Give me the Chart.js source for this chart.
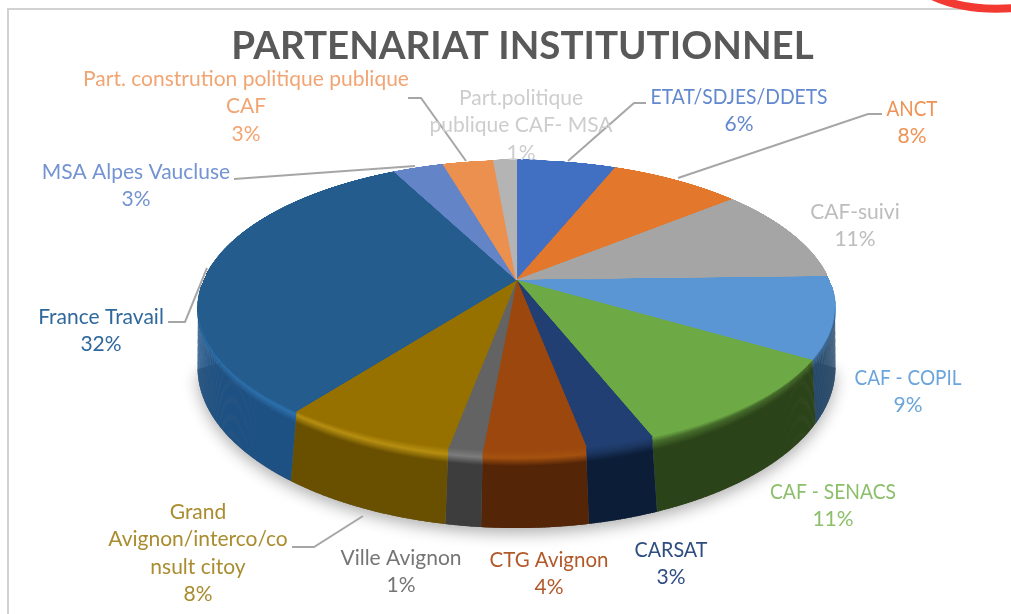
<!DOCTYPE html>
<html><head><meta charset="utf-8">
<style>html,body{margin:0;padding:0;background:#fff}canvas{display:block;filter:blur(.55px)}</style>
<script src="https://cdn.jsdelivr.net/npm/chart.js@4"></script>
</head><body><canvas id="c" width="1011" height="614"></canvas>
<script>
const chartTitle = "PARTENARIAT INSTITUTIONNEL";
const categories = ["ETAT/SDJES/DDETS","ANCT","CAF-suivi","CAF - COPIL","CAF - SENACS","CARSAT","CTG Avignon","Ville Avignon","Grand\nAvignon/interco/co\nnsult citoy","France Travail","MSA Alpes Vaucluse","Part. constrution politique publique\nCAF","Part.politique\npublique CAF- MSA"];
const percents = [6.1,8.0,10.5,8.9,10.5,3.0,4.45,1.49,7.5,31.96,3.1,3.1,1.4];

const sliceColors = ["#4170C2","#E3772B","#A5A5A5","#5A96D3","#6DAA45","#213F72","#9C470D","#636363","#967100","#245C8E","#6484C8","#EB904F","#B4B4B4"];
const wallColors  = ["#2E4F88","#9E521E","#737373","#26496B","#2B4318","#0C1D37","#552507","#3D3D3D","#695000","#1E5183","#465D8C","#A46437","#7D7D7D"];
const rimColors   = ["#4170C2","#E3772B","#A5A5A5","#3E6D9A","#456B2B","#1B355F","#A5510F","#7C7C7C","#B68E10","#2C70AC","#6484C8","#EB904F","#B4B4B4"];
const textColors  = ["#6289CF","#EE9355","#BDBDBD","#6BA5DB","#8CBF6B","#2F4E80","#B2592A","#757575","#A98C2E","#30689C","#7393D3","#F1A573","#CDCDCD"];
const labelAnchors = [[739,97],[912,109],[855,212],[908,378],[833,492],[671,550],[549,560],[401,558],[198,512],[101,317],[136,172],[246,79],[521,98]];
const labelMaxWidths = [177,51,null,107,126,73,119,null,null,null,null,null,null];
const leaders = [
  [[646,103],[634,103],[568,161]],
  [[882,114],[868,114],[678,178]],
  [[234,179],[415,166]],
  [[168,322],[185,322],[207,268]],
  [[292,547],[314,547],[363,516]],
  [[408,98],[421,98],[466,161]]
];
const P = {cx:516.5, cy:280, d:5.14, g:737, f:1608, depth:290, srcR:700, lineH:27.5};

function project(u,v){ return [P.cx+P.f*u/(P.d-v), P.cy+P.g*v/(P.d-v)]; }

const tilted = {
  id:'tilted',
  beforeDatasetsDraw(chart){
    const ctx = chart.ctx, arcs = chart.getDatasetMeta(0).data;
    const R0 = arcs[0].outerRadius, s = P.srcR/R0;
    const off = document.createElement('canvas');
    off.width = off.height = P.srcR*2;
    const oc = off.getContext('2d');
    oc.setTransform(s,0,0,s,P.srcR-arcs[0].x*s,P.srcR-arcs[0].y*s);
    arcs.forEach(a=>a.draw(oc));

    const aMin = Math.asin(1/P.d), aMax = Math.PI-aMin;
    const rimPt = a=>project(Math.cos(a),Math.sin(a));
    // soft shadow beneath the solid
    ctx.save();
    ctx.shadowColor='rgba(0,0,0,.32)'; ctx.shadowBlur=16; ctx.shadowOffsetX=0; ctx.shadowOffsetY=5;
    ctx.fillStyle='#777';
    ctx.beginPath();
    let first=true;
    for(let a=aMin;a<=aMax;a+=0.01){const p=rimPt(a);const y=p[1]+P.depth/(P.d-Math.sin(a));first?ctx.moveTo(p[0],y):ctx.lineTo(p[0],y);first=false;}
    ctx.lineTo(P.cx,P.cy); ctx.closePath(); ctx.fill();
    ctx.restore();

    // top surface: perspective row mapping of the library's arcs
    const V = yd=>P.d*yd/(P.g+yd);
    for(let y=158;y<462;y++){
      const v1=V(y-P.cy), v2=V(y+1-P.cy), vm=(v1+v2)/2;
      if(v1>1||v2<-1) continue;
      const hw=P.f/(P.d-vm);
      const sy1=Math.max(0,(v1+1)*P.srcR), sy2=Math.min(P.srcR*2,(v2+1)*P.srcR);
      if(sy2<=sy1) continue;
      ctx.drawImage(off,0,sy1,P.srcR*2,sy2-sy1,P.cx-hw,y,2*hw,1);
    }

    // front wall with bevel
    const step=0.006;
    arcs.forEach((el,i)=>{
      const a0=Math.max(el.startAngle,aMin), a1=Math.min(el.endAngle,aMax);
      for(let a=a0;a<a1;a+=step){
        const b=Math.min(a+step*1.5,a1);
        const r0=1-0.034*Math.pow(Math.sin(a),2), r1=1-0.034*Math.pow(Math.sin(b),2);
        const i0=project(r0*Math.cos(a),r0*Math.sin(a)), i1=project(r1*Math.cos(b),r1*Math.sin(b));
        const o0=rimPt(a), o1=rimPt(b);
        const h0=P.depth/(P.d-Math.sin(a)), h1=P.depth/(P.d-Math.sin(b));
        const yT=i0[1], yB=o0[1]+h0, span=Math.max(1,yB-yT);
        const g=ctx.createLinearGradient(0,yT,0,yB);
        const tR=Math.min(.9,(o0[1]-yT)/span), tW=Math.min(.97,(o0[1]+8-yT)/span);
        g.addColorStop(0,sliceColors[i]);
        g.addColorStop(tR,rimColors[i]);
        g.addColorStop(Math.max(tW,tR+.01),wallColors[i]);
        g.addColorStop(1,wallColors[i]);
        ctx.fillStyle=g;
        ctx.beginPath();
        ctx.moveTo(i0[0],i0[1]);ctx.lineTo(i1[0],i1[1]);ctx.lineTo(o1[0],o1[1]+h1);ctx.lineTo(o0[0],o0[1]+h0);ctx.closePath();
        ctx.fill();
      }
    });
    return false;
  },
  afterDraw(chart){
    const ctx=chart.ctx;
    ctx.save();
    // frame + red mark
    ctx.strokeStyle='#D2D2D2';ctx.lineWidth=2;
    ctx.beginPath();ctx.moveTo(8,614);ctx.lineTo(8,9);ctx.lineTo(1011,9);ctx.stroke();
    ctx.strokeStyle='#F23A33';ctx.lineWidth=8;
    ctx.beginPath();ctx.moveTo(930,-5);ctx.quadraticCurveTo(965,12,1015,8);ctx.stroke();
    // leaders
    ctx.strokeStyle='#A6A6A6';ctx.lineWidth=2;
    leaders.forEach(l=>{ctx.beginPath();l.forEach((p,i)=>i?ctx.lineTo(p[0],p[1]):ctx.moveTo(p[0],p[1]));ctx.stroke();});
    // labels
    ctx.font='21px Lato';ctx.textAlign='center';ctx.textBaseline='middle';
    categories.forEach((n,i)=>{
      const names=n.split("\n");
      const lines=names.concat([Math.round(percents[i])+"%"]);
      ctx.fillStyle=textColors[i];
      lines.forEach((t,k)=>{
        const x=labelAnchors[i][0], y=labelAnchors[i][1]+k*P.lineH;
        if(labelMaxWidths[i]&&k===0) ctx.fillText(t,x,y,labelMaxWidths[i]); else ctx.fillText(t,x,y);
      });
    });
    ctx.restore();
  }
};

new Chart(document.getElementById('c'),{
  type:'pie',
  data:{labels:categories,datasets:[{data:percents,backgroundColor:sliceColors,borderColor:sliceColors,borderWidth:1}]},
  options:{
    responsive:false,animation:false,
    layout:{padding:{left:34,top:23}},
    plugins:{
      legend:{display:false},tooltip:{enabled:false},
      title:{display:true,text:chartTitle,fullSize:false,color:'#595959',font:{family:'Lato',size:38.5,weight:'bold'},padding:{top:0,bottom:10}}
    }
  },
  plugins:[tilted]
});
</script></body></html>
